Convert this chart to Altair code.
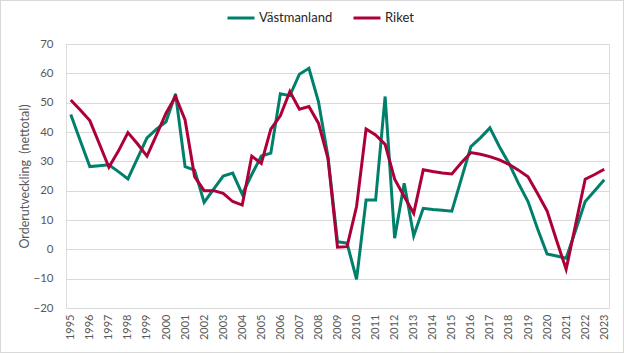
import altair as alt
import pandas as pd

years = [1995 + 0.5 * i for i in range(57)]

vastmanland = [46, 37, 28.2, 28.5, 28.8, 26.5, 24, 31, 38, 41, 43.5, 53, 28.2, 27,
               16, 20.5, 25, 26, 18.8, 25.5, 31.8, 32.8, 53, 52.4, 59.7, 61.7, 50.4, 31.6,
               2.6, 2.1, -10.2, 16.8, 16.8, 52.1, 3.8, 22.5, 4.6, 14, 13.6, 13.3, 13, 24,
               35, 38, 41.4, 35, 29.3, 22.5, 16.3, 7, -1.6, -2.3, -3, 6.5, 16.3, 20, 23.7]

riket = [50.9, 47.5, 43.9, 36, 28, 33.5, 39.8, 36, 31.8, 39, 46.4, 52.1, 44.1, 24.8,
         20, 20, 19.1, 16.3, 15.1, 31.8, 29.3, 41, 45.5, 53.8, 47.8, 48.7, 43, 31,
         0.7, 0.9, 14.6, 41, 39, 35.8, 23.9, 18, 12.3, 27.1, 26.5, 26, 25.7, 29.5,
         33, 32.4, 31.6, 30.5, 29, 27, 24.7, 19, 13.1, 3, -6.8, 8.5, 23.9, 25.5, 27.3]

series_names = ["Västmanland", "Riket"]
series_colors = ["#00806B", "#AE0038"]
tick_years = list(range(1995, 2024))

rows = []
for name, vals in zip(series_names, [vastmanland, riket]):
    for t, v in zip(years, vals):
        rows.append({"t": t, "v": v, "serie": name})
df = pd.DataFrame(rows)

FONT = "Lato"
GREY = "#595959"

lines = alt.Chart(df).mark_line(strokeWidth=3, strokeJoin="miter").encode(
    x=alt.X("t:Q",
            scale=alt.Scale(domain=[1994.75, 2023.25], nice=False, zero=False),
            axis=alt.Axis(values=tick_years, format="d", labelAngle=-90, grid=False,
                          domain=False, ticks=False, labelPadding=6, title=None,
                          labelColor=GREY, labelFontSize=11, labelFont=FONT)),
    y=alt.Y("v:Q",
            scale=alt.Scale(domain=[-20, 70], nice=False, zero=False),
            axis=alt.Axis(values=list(range(-20, 80, 10)), grid=True, gridColor="#d9d9d9",
                          domain=False, ticks=False, labelPadding=13,
                          title="Orderutveckling\u00a0 (nettotal)", titleFont=FONT,
                          titleFontSize=12.5, titleFontWeight="normal", titleColor=GREY,
                          titleX=-42, titleY=132, titleAngle=-90, titleAlign="center",
                          titleBaseline="middle",
                          labelColor=GREY, labelFontSize=11.5, labelFont=FONT)),
    color=alt.Color("serie:N",
                    scale=alt.Scale(domain=series_names, range=series_colors),
                    sort=series_names,
                    legend=alt.Legend(title=None, orient="none", legendX=160, legendY=-41,
                                      direction="horizontal", symbolType="stroke",
                                      symbolStrokeWidth=3, symbolSize=729,
                                      labelFont=FONT, labelFontSize=13, labelColor="#262626",
                                      labelOffset=3, columnPadding=14)),
)

frame = alt.Chart(df).mark_rect(fill=None, stroke="#d9d9d9", strokeWidth=1).encode(
    x=alt.value(-65.5), x2=alt.value(557.5), y=alt.value(-43.5), y2=alt.value(308.5)
)

chart = alt.layer(frame, lines).properties(
    width=543, height=264,
    autosize=alt.AutoSizeParams(type="none"),
    padding={"left": 66, "top": 44, "right": 15, "bottom": 45},
).configure_view(stroke=None).configure(background="white")

chart.save("out.html", embed_options={"renderer": "svg", "actions": False})
